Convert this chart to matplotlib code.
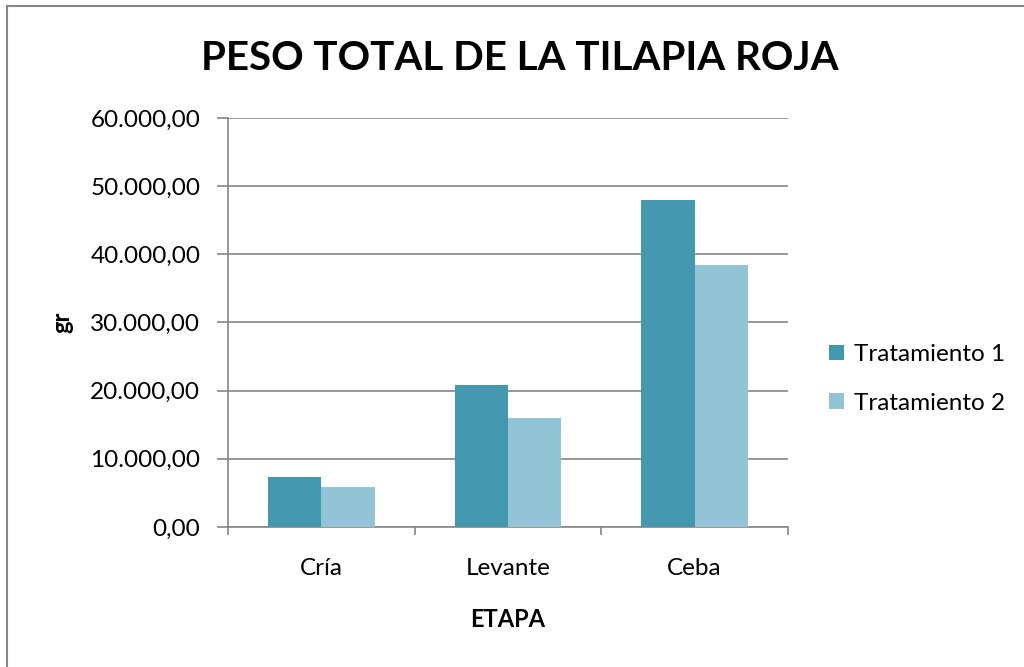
import matplotlib.pyplot as plt
from matplotlib.patches import Rectangle
from matplotlib.ticker import FuncFormatter, FixedLocator
import numpy as np

plt.rcParams['font.family'] = ['Lato', 'DejaVu Sans']

etapas = ['Cría', 'Levante', 'Ceba']
tratamiento_1 = [7400, 20900, 48000]
tratamiento_2 = [5800, 16000, 38400]
series = ['Tratamiento 1', 'Tratamiento 2']
colores = ['#4398AF', '#93C4D5']
gris = '#868686'


def formato_es(v, pos):
    # 60000 -> 60.000,00
    s = f'{v:,.2f}'
    return s.replace(',', '#').replace('.', ',').replace('#', '.')


fig = plt.figure(figsize=(10.24, 6.67), dpi=100)
ax = fig.add_axes([0.2227, 0.2099, 0.5468, 0.6132])

x = np.arange(len(etapas))
ancho = 0.2866
ax.bar(x - ancho / 2, tratamiento_1, ancho, color=colores[0], label=series[0], zorder=3)
ax.bar(x + ancho / 2, tratamiento_2, ancho, color=colores[1], label=series[1], zorder=3)

ax.set_xlim(-0.5, len(etapas) - 0.5)
ax.set_ylim(0, 60000)
ax.set_yticks(np.arange(0, 60001, 10000))
ax.yaxis.set_major_formatter(FuncFormatter(formato_es))
ax.grid(axis='y', color=gris, linewidth=1.2, zorder=0)

# ticks del eje x en los limites de cada categoria
ax.set_xticks(x)
ax.set_xticklabels(etapas)
ax.xaxis.set_minor_locator(FixedLocator(np.arange(-0.5, len(etapas), 1)))
ax.tick_params(axis='x', which='major', length=0, pad=22, labelsize=17.5)
ax.tick_params(axis='x', which='minor', length=6, width=1.2, color=gris)
ax.tick_params(axis='y', length=8, width=1.2, color=gris, labelsize=17.5, pad=12)

for lado in ['top', 'right']:
    ax.spines[lado].set_visible(False)
for lado in ['left', 'bottom']:
    ax.spines[lado].set_color(gris)
    ax.spines[lado].set_linewidth(1.2)

ax.set_xlabel('ETAPA', fontsize=17, fontweight='bold', labelpad=21)
ax.set_ylabel('gr', fontsize=17, fontweight='bold', labelpad=12)

fig.text(0.508, 0.912, 'PESO TOTAL DE LA TILAPIA ROJA', ha='center', va='center',
         fontsize=29, fontweight='bold')

ax.legend(loc='center left', bbox_to_anchor=(1.035, 0.362), frameon=False,
          fontsize=17.5, handlelength=0.6, handleheight=0.6, handletextpad=0.4,
          labelspacing=1.12)

# borde del grafico
fig.patches.append(Rectangle((0.0068, -0.05), 1.2, 1.041, transform=fig.transFigure,
                             fill=False, edgecolor=gris, linewidth=1.5))

fig.savefig('out.png', dpi=100)
